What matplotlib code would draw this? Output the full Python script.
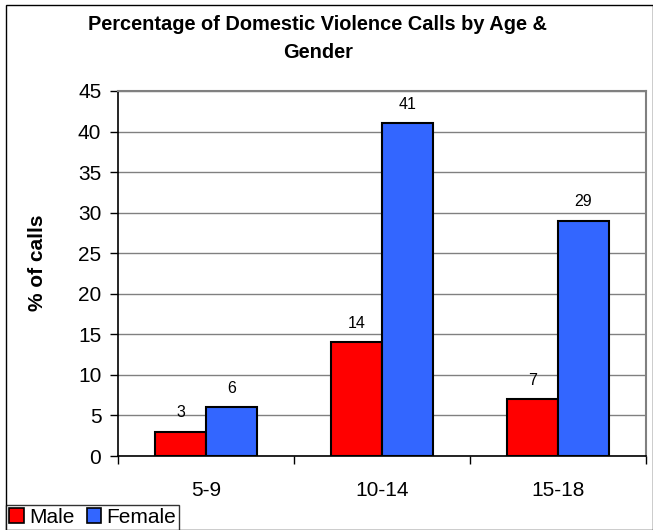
import matplotlib
matplotlib.use("Agg")
import matplotlib.pyplot as plt
from matplotlib.patches import Rectangle, Patch
import numpy as np

categories = ["5-9", "10-14", "15-18"]
male = [3, 14, 7]
female = [6, 41, 29]
yticks = [0, 5, 10, 15, 20, 25, 30, 35, 40, 45]

plt.rcParams['font.family'] = ['Liberation Sans', 'DejaVu Sans']

W, H = 653, 530
fig = plt.figure(figsize=(W/100, H/100), dpi=100)
# outer border
fig.patches.append(Rectangle((6/W, 0), 1 - 6/W - 0.5/W, 1 - 5/H, transform=fig.transFigure,
                             fill=False, edgecolor='black', linewidth=1.0))

left, right, top, bottom = 118, 646, 91, 456
ax = fig.add_axes([left/W, 1 - bottom/H, (right-left)/W, (bottom-top)/H])

x = np.arange(len(categories))
bw = 0.29
b1 = ax.bar(x - bw/2, male, bw, color='#ff0000', edgecolor='black', linewidth=1.5, zorder=3)
b2 = ax.bar(x + bw/2, female, bw, color='#3366ff', edgecolor='black', linewidth=1.5, zorder=3)

for rects, vals in ((b1, male), (b2, female)):
    for r, v in zip(rects, vals):
        ax.text(r.get_x() + r.get_width()/2, v + 1.4, str(v), ha='center', va='bottom', fontsize=11.5)

ax.set_xlim(-0.5, len(categories) - 0.5)
ax.set_ylim(0, 45)
ax.set_yticks(yticks)
ax.set_yticklabels([str(t) for t in yticks], fontsize=15)
ax.yaxis.grid(True, color='#808080', linewidth=1.0, zorder=0)
ax.set_axisbelow(True)

ax.set_xticks(x)
ax.set_xticklabels(categories, fontsize=15)
ax.tick_params(axis='x', which='major', length=0, pad=18)
ax.set_xticks(np.arange(-0.5, len(categories)), minor=True)
ax.tick_params(axis='x', which='minor', length=6, width=1, color='black', direction='out')
ax.tick_params(axis='y', length=6, width=1, direction='out', pad=6)

for s in ('top', 'right'):
    ax.spines[s].set_color('#808080')
    ax.spines[s].set_linewidth(1.5)
ax.spines['left'].set_color('black')
ax.spines['bottom'].set_color('black')
ax.spines['left'].set_linewidth(1.2)
ax.spines['bottom'].set_linewidth(1.2)

ax.set_ylabel('% of calls', fontsize=15, fontweight='bold')
ax.yaxis.set_label_coords(-0.135, 0.53)

fig.text(318/W, 1 - 24/H, 'Percentage of Domestic Violence Calls by Age &', ha='center', va='center',
         fontsize=14.4, fontweight='bold')
fig.text(318/W, 1 - 53/H, 'Gender', ha='center', va='center', fontsize=14.4, fontweight='bold')

handles = [Patch(facecolor='#ff0000', edgecolor='black', linewidth=1.2, label='Male'),
           Patch(facecolor='#3366ff', edgecolor='black', linewidth=1.2, label='Female')]
leg = fig.legend(handles=handles, loc='lower left', bbox_to_anchor=(6/W, 0), ncol=2,
                 fontsize=15, frameon=True, fancybox=False, handlelength=0.7, handleheight=0.7,
                 handletextpad=0.25, columnspacing=0.6, borderpad=0.15, borderaxespad=0)
leg.get_frame().set_edgecolor('black')
leg.get_frame().set_linewidth(1.0)

fig.savefig('out.png', dpi=100)
